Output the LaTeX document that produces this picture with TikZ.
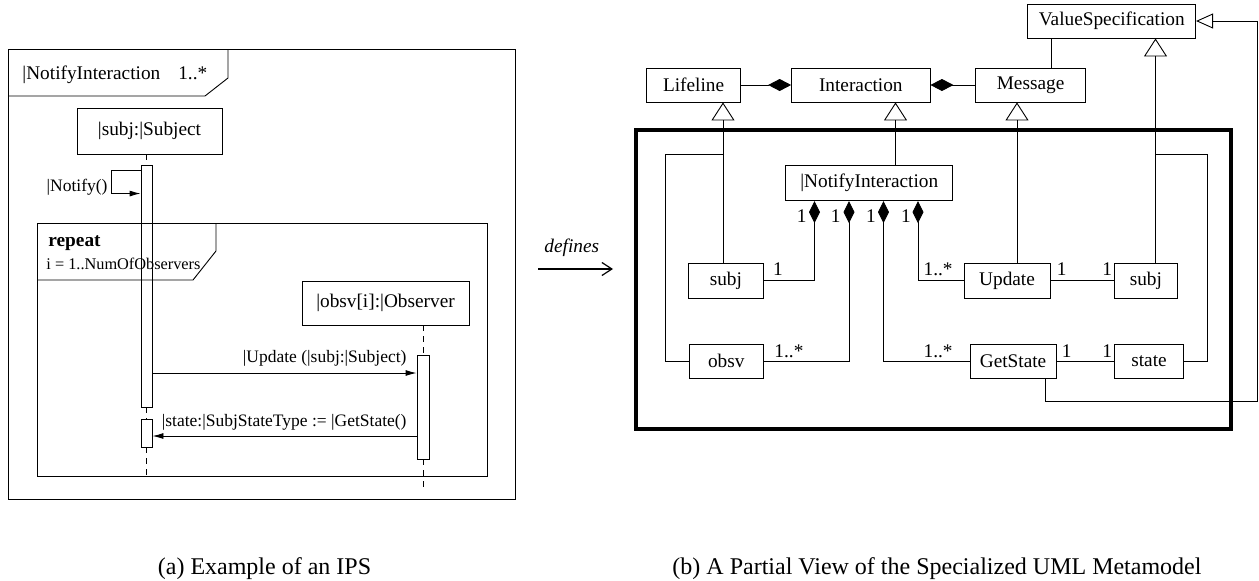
\documentclass[tikz,border=0pt]{standalone}
\usepackage{fontspec}
\setmainfont{Liberation Serif}
\usetikzlibrary{arrows.meta}
\newcommand\boxfont{\fontsize{19.3}{23}\selectfont}
\newcommand\msgfont{\fontsize{17.5}{21}\selectfont}
\newcommand\guardfont{\fontsize{16.3}{19}\selectfont}
\newcommand\capfont{\fontsize{24}{28}\selectfont}
\begin{document}
\begin{tikzpicture}[x=1pt,y=-1pt,line width=0.9pt,
  box/.style={draw,inner sep=0pt,font=\boxfont},
  actbar/.style={draw,inner sep=0pt},
  txt/.style={inner sep=0pt,font=\boxfont},
  lifeline/.style={dash pattern=on 6pt off 5pt},
  msg/.style={-{Latex[length=11pt,width=6pt]}},
  gen/.style={-{Triangle[open,length=18pt,width=23pt]}},
  genside/.style={-{Triangle[open,length=17pt,width=15pt]}},
  comph/.style={{Diamond[length=23pt,width=12pt]}-},
  compv/.style={{Diamond[length=22pt,width=11pt]}-}]
\useasboundingbox (0,0) rectangle (1259,581);

% ---------------- (a) sequence diagram ----------------
\draw (8,49) rectangle (515,499);
\draw (8,96) -- (205,96) -- (228,78) -- (228,49);
\node[txt,anchor=base west] (title) at (22,79) {|NotifyInteraction\hskip 18pt 1..*};

\node[box,minimum width=145pt,minimum height=46pt] (subjS) at (149.5,131) {|subj:|Subject};
\node[actbar,minimum width=11pt,minimum height=242pt] (act1) at (146.5,286) {};
\node[actbar,minimum width=11pt,minimum height=28pt] (act2) at (146.5,433) {};
\coordinate (subjEnd) at (146.5,480);

\draw[lifeline] (subjS.south -| act1) -- (act1.north);
\draw[lifeline] (act1.south) -- (act2.north);
\draw[lifeline] (act2.south) -- (subjEnd);

% self call
\draw[msg] (act1.north west) ++(0,6) -- ++(-29,0) -- ++(0,23) -- ++(29,0);
\node[txt,font=\msgfont,anchor=base east] (notify) at (108,191) {|Notify()};

% loop fragment
\draw (37,223) rectangle (487,476);
\draw (37,280) -- (193,280) -- (216,251) -- (216,223);
\node[txt,font=\boxfont\bfseries,anchor=base west] (rep) at (48,246) {repeat};
\node[txt,font=\guardfont,anchor=base west] (guard) at (46,269) {i = 1..NumOfObservers};

\node[box,minimum width=167pt,minimum height=44pt] (obsvO) at (385.5,303) {|obsv[i]:|Observer};
\node[actbar,minimum width=12pt,minimum height=104pt] (act3) at (423,407) {};
\coordinate (obsEnd) at (423,487);
\draw[lifeline] (obsvO.south -| act3) -- (act3.north);
\draw[lifeline] (act3.south) -- (obsEnd);

\coordinate (yUpd) at (0,373);
\coordinate (yGet) at (0,436);
\draw[msg] (act1.east |- yUpd) -- (act3.west |- yUpd);
\node[txt,font=\msgfont,anchor=base east] (updlbl) at (407,362) {|Update (|subj:|Subject)};
\draw[msg] (act3.west |- yGet) -- (act2.east |- yGet);
\node[txt,font=\msgfont,anchor=base east] (getlbl) at (407,426) {|state:|SubjStateType := |GetState()};

% ---------------- defines ----------------
\coordinate (defA) at (538,269);
\coordinate (defB) at (613,269);
\draw[line width=2pt,-{Straight Barb[length=10pt,width=13pt,line width=1.2pt]}] (defA) -- (defB);
\node[txt,font=\boxfont\itshape,anchor=base west] (deflbl) at (544,252) {defines};

% ---------------- (b) metamodel ----------------
\node[box,minimum width=167.7pt,minimum height=34pt] (vs) at (1111.75,21) {ValueSpecification};
\node[box,minimum width=93.5pt,minimum height=34pt] (lifeline) at (693.55,85) {Lifeline};
\node[box,minimum width=138.4pt,minimum height=34pt] (interaction) at (860.8,85) {Interaction};
\node[box,minimum width=109.5pt,minimum height=34pt] (message) at (1030.55,85) {Message};

\draw[line width=4pt] (636,130) rectangle (1231,429);

\node[box,minimum width=167.3pt,minimum height=35pt] (ni) at (869.25,183.2) {|NotifyInteraction};
\node[box,minimum width=75.4pt,minimum height=35pt] (subjL) at (725.9,280.8) {subj};
\node[box,minimum width=74.6pt,minimum height=34.3pt] (obsv) at (726.3,361.2) {obsv};
\node[box,minimum width=85.9pt,minimum height=35pt] (update) at (1007.05,280.8) {Update};
\node[box,minimum width=63.3pt,minimum height=35pt] (subjR) at (1145.85,280.8) {subj};
\node[box,minimum width=85.9pt,minimum height=34.3pt] (getstate) at (1013.05,361.2) {GetState};
\node[box,minimum width=69pt,minimum height=34.3pt] (state) at (1149,361.2) {state};

% columns of the connectors
\coordinate (gL) at (723,0);
\coordinate (gI) at (895.5,0);
\coordinate (gM) at (1017,0);
\coordinate (gV) at (1155.5,0);
\coordinate (gMV) at (1051.2,0);
\coordinate (gG) at (1045.2,0);
\coordinate (jL) at (723,154.3);
\coordinate (jV) at (1155.5,154.3);
\coordinate (cR) at (1257.8,401);
\coordinate (d1) at (814.5,0);
\coordinate (d2) at (849,0);
\coordinate (d3) at (883.5,0);
\coordinate (d4) at (918,0);

% compositions of Interaction
\draw[comph] (interaction.west) -- (lifeline.east);
\draw[comph] (interaction.east) -- (message.west);
\draw (message.north -| gMV) -- (vs.south -| gMV);

% generalizations
\draw[gen] (subjL.north -| gL) -- (lifeline.south -| gL);
\draw (obsv.west) -- ++(-23,0) |- (jL);
\draw[gen] (ni.north -| gI) -- (interaction.south -| gI);
\draw[gen] (update.north -| gM) -- (message.south -| gM);
\draw[gen] (subjR.north -| gV) -- (vs.south -| gV);
\draw (state.east) -- ++(23,0) |- (jV);
\draw[genside] (getstate.south -| gG) |- (cR) |- (vs.east);

% compositions of NotifyInteraction
\draw[compv] (ni.south -| d1) |- (subjL.east);
\draw[compv] (ni.south -| d2) |- (obsv.east);
\draw[compv] (ni.south -| d3) |- (getstate.west);
\draw[compv] (ni.south -| d4) |- (update.west);
\draw (update.east) -- (subjR.west);
\draw (getstate.east) -- (state.west);

% multiplicities
\node[txt,anchor=base] (m1) at (801.7,222) {1};
\node[txt,anchor=base] (m2) at (835.8,222) {1};
\node[txt,anchor=base] (m3) at (871,222) {1};
\node[txt,anchor=base] (m4) at (906,222) {1};
\node[txt,anchor=base] (m5) at (778,275) {1};
\node[txt,anchor=base west] (m6) at (774,357) {1..*};
\node[txt,anchor=base east] (m7) at (953,357) {1..*};
\node[txt,anchor=base east] (m8) at (953,275) {1..*};
\node[txt,anchor=base] (m9) at (1061.8,275) {1};
\node[txt,anchor=base] (m10) at (1107.3,275) {1};
\node[txt,anchor=base] (m11) at (1066.6,357) {1};
\node[txt,anchor=base] (m12) at (1107.3,357) {1};

% ---------------- captions ----------------
\node[inner sep=0pt,font=\capfont,anchor=base] (capa) at (264.5,574) {(a) Example of an IPS};
\node[inner sep=0pt,font=\capfont,anchor=base] (capb) at (937,574) {(b) A Partial View of the Specialized UML Metamodel};
\end{tikzpicture}
\end{document}
